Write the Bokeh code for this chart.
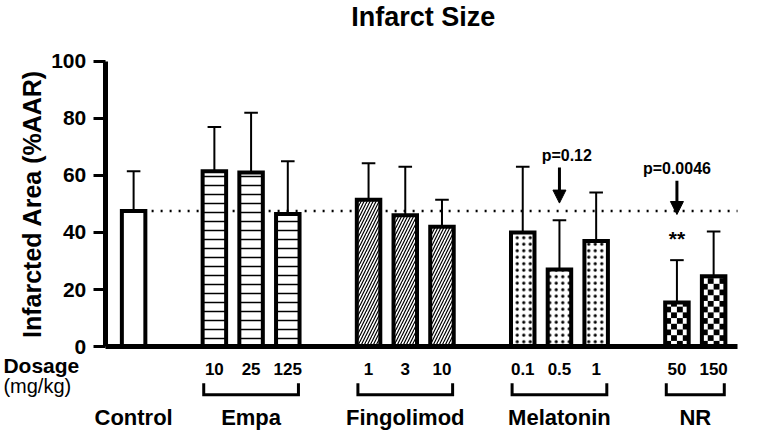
import numpy as np
from bokeh.plotting import figure
from bokeh.models import (ColumnDataSource, Range1d, FixedTicker, Arrow, NormalHead)
from bokeh.embed import file_html
from bokeh.resources import INLINE
from bokeh.core.properties import value

# ---------------- data ----------------
title_text = "Infarct Size"
y_axis_label = "Infarcted Area (%AAR)"
groups = ["Control", "Empa", "Fingolimod", "Melatonin", "NR"]
doses = [[""], ["10", "25", "125"], ["1", "3", "10"], ["0.1", "0.5", "1"], ["50", "150"]]
means = [[47.5], [61.5, 61.0, 46.5], [51.5, 46.0, 42.0], [40.0, 27.0, 37.0], [15.5, 24.7]]
errors = [[14.0], [15.5, 21.0, 18.5], [12.8, 17.0, 9.5], [23.0, 17.3, 17.0], [14.8, 15.6]]
y_ticks = [0, 20, 40, 60, 80, 100]
dose_title = "Dosage"
dose_unit = "(mg/kg)"

# annotations: (group index, bar index)
p_texts = ["p=0.12", "p=0.0046"]
p_group = [3, 4]
p_bar = [1, 0]
p_text_dx = [0.2, 0.0]
p_text_y = [66.9, 62.5]
arrow_top = [62.8, 58.1]
arrow_tip = [50.3, 46.3]
sig_text = "**"
sig_group, sig_bar, sig_y = 4, 0, 37.9

# ---------------- style / layout constants ----------------
FONT = "Liberation Sans"
GROUP_GAP = 1.2
BAR_W = 0.64
CAP_W = 0.37
X_RANGE = (-3.626, 16.777)
Y_RANGE = (-30.1, 121.3)
AXIS_X = -0.773          # where the y axis sits
AXIS_END = 16.45         # right end of the baseline
TITLE_POS = (7.89, 115.6)
YLABEL_POS = (-2.77, 50.0)
DOSE_Y = -7.7
BRACKET_Y = (-12.8, -16.9)
GROUP_Y = -24.8
CAPTION_X = -3.547
CAPTION_Y = (-6.5, -13.9)
hatch_pat = [" ", "-", "/", ".", " "]
hatch_scale = [8, 9, 6, 6.5, 8]
hatch_weight = [1, 1.5, 1.2, 1.3, 1]

# ---------------- bar positions ----------------
xs, tops, errs, pats, hscales, hweights, labels = [], [], [], [], [], [], []
group_x = []
cur = 0.0
for g, (ds, ms, es) in enumerate(zip(doses, means, errors)):
    gx = [cur + i for i in range(len(ms))]
    group_x.append(gx)
    xs += gx
    tops += ms
    errs += es
    labels += ds
    pats += [hatch_pat[g]] * len(ms)
    hscales += [hatch_scale[g]] * len(ms)
    hweights += [hatch_weight[g]] * len(ms)
    cur += len(ms) + GROUP_GAP

xs = np.array(xs)
tops = np.array(tops)
errs = np.array(errs)

src = ColumnDataSource(dict(x=xs, top=tops, err_top=tops + errs,
                            cap_l=xs - CAP_W / 2, cap_r=xs + CAP_W / 2,
                            pat=pats, hs=hscales, hw=hweights, lab=labels))

p = figure(width=749, height=432, output_backend="svg", toolbar_location=None,
           x_range=Range1d(*X_RANGE), y_range=Range1d(*Y_RANGE),
           min_border=0, min_border_left=0, min_border_right=0,
           min_border_top=0, min_border_bottom=0)
p.outline_line_color = None
p.xgrid.visible = False
p.ygrid.visible = False
p.background_fill_color = "white"
p.border_fill_color = "white"

# y axis (placed inside the frame)
ya = p.yaxis[0]
ya.fixed_location = AXIS_X
ya.bounds = (y_ticks[0], y_ticks[-1])
ya.ticker = FixedTicker(ticks=y_ticks)
ya.axis_line_width = 5
ya.axis_line_color = "black"
ya.major_tick_line_width = 3
ya.major_tick_out = 12
ya.major_tick_in = 0
ya.minor_tick_out = 0
ya.minor_tick_in = 0
ya.major_label_standoff = 7
ya.major_label_text_font = FONT
ya.major_label_text_font_style = "bold"
ya.major_label_text_font_size = "21px"
ya.major_label_text_color = "black"

# x axis = plain baseline at y = 0
xa = p.xaxis[0]
xa.fixed_location = 0
xa.bounds = (AXIS_X, AXIS_END)
xa.ticker = FixedTicker(ticks=[])
xa.axis_line_width = 5
xa.axis_line_color = "black"
xa.major_tick_out = 0
xa.major_tick_in = 0
xa.minor_tick_out = 0
xa.minor_tick_in = 0
xa.major_label_text_font_size = "0px"

# dotted control reference line
ctrl = means[0][0]
p.line(x=[xs[0], AXIS_END], y=[ctrl, ctrl], line_color="black", line_width=2.5,
       line_dash="2 7")

# error bars (upper only)
p.segment(x0="x", y0="top", x1="x", y1="err_top", source=src, line_color="black", line_width=2)
p.segment(x0="cap_l", y0="err_top", x1="cap_r", y1="err_top", source=src,
          line_color="black", line_width=2)

# bar fills with hatch
p.vbar(x="x", top="top", bottom=0, width=BAR_W, source=src, fill_color="white",
       line_color=None, hatch_pattern="pat", hatch_scale="hs", hatch_weight="hw",
       hatch_color="black")

# checkerboard fill for the NR group
ncol = 4
cw = BAR_W / ncol
ch = 2.0
ql, qr, qb, qt = [], [], [], []
for x, m in zip(group_x[4], means[4]):
    nrows = int(np.ceil(m / ch))
    for r in range(nrows):
        for c in range(ncol):
            if (r + c) % 2 == 0:
                ql.append(x - BAR_W / 2 + c * cw)
                qr.append(x - BAR_W / 2 + (c + 1) * cw)
                qb.append(r * ch)
                qt.append(min((r + 1) * ch, m))
p.quad(left=ql, right=qr, bottom=qb, top=qt, fill_color="black", line_color=None)

# bar outlines
p.vbar(x="x", top="top", bottom=0, width=BAR_W, source=src, fill_color=None,
       line_color="black", line_width=4, line_join="miter")

TXT = dict(text_font=value(FONT), text_color="black", text_baseline="middle")

# p-value annotations with arrows
ax = [group_x[g][b] for g, b in zip(p_group, p_bar)]
p.text(x=[a + d for a, d in zip(ax, p_text_dx)], y=p_text_y, text=p_texts,
       text_align="center", text_font_style="bold", text_font_size="16px", **TXT)
asrc = ColumnDataSource(dict(x=ax, y0=arrow_top, y1=arrow_tip))
p.add_layout(Arrow(end=NormalHead(size=13, fill_color="black", line_color="black",
                                  line_width=1),
                   x_start="x", y_start="y0", x_end="x", y_end="y1", source=asrc,
                   line_width=3, line_color="black"))
p.text(x=[group_x[sig_group][sig_bar]], y=[sig_y], text=[sig_text], text_align="center",
       text_font_style="bold", text_font_size="21px", **TXT)

# dose labels
p.text(x="x", y=DOSE_Y, text="lab", source=src, text_align="center",
       text_font_style="bold", text_font_size="17px", **TXT)

# brackets under each dosed group
bx, by = [], []
for gx in group_x:
    if len(gx) > 1:
        l, r = gx[0] - 0.29, gx[-1] + 0.29
        bx.append([l, l, r, r])
        by.append([BRACKET_Y[0], BRACKET_Y[1], BRACKET_Y[1], BRACKET_Y[0]])
p.multi_line(xs=bx, ys=by, line_color="black", line_width=3, line_join="miter")

# group names
p.text(x=[np.mean(gx) for gx in group_x], y=GROUP_Y, text=groups, text_align="center",
       text_font_style="bold", text_font_size="22px", **TXT)

# title
p.text(x=[TITLE_POS[0]], y=[TITLE_POS[1]], text=[title_text], text_align="center",
       text_font_style="bold", text_font_size="27px", **TXT)

# y axis label (rotated)
p.text(x=[YLABEL_POS[0]], y=[YLABEL_POS[1]], text=[y_axis_label], angle=np.pi / 2,
       text_align="center", text_font_style="bold", text_font_size="25px", **TXT)

# dosage caption
p.text(x=[CAPTION_X], y=[CAPTION_Y[0]], text=[dose_title], text_align="left",
       text_font_style="bold", text_font_size="21px", **TXT)
p.text(x=[CAPTION_X], y=[CAPTION_Y[1]], text=[dose_unit], text_align="left",
       text_font_style="normal", text_font_size="20px", **TXT)

open("out.html", "w").write(file_html(p, INLINE))
